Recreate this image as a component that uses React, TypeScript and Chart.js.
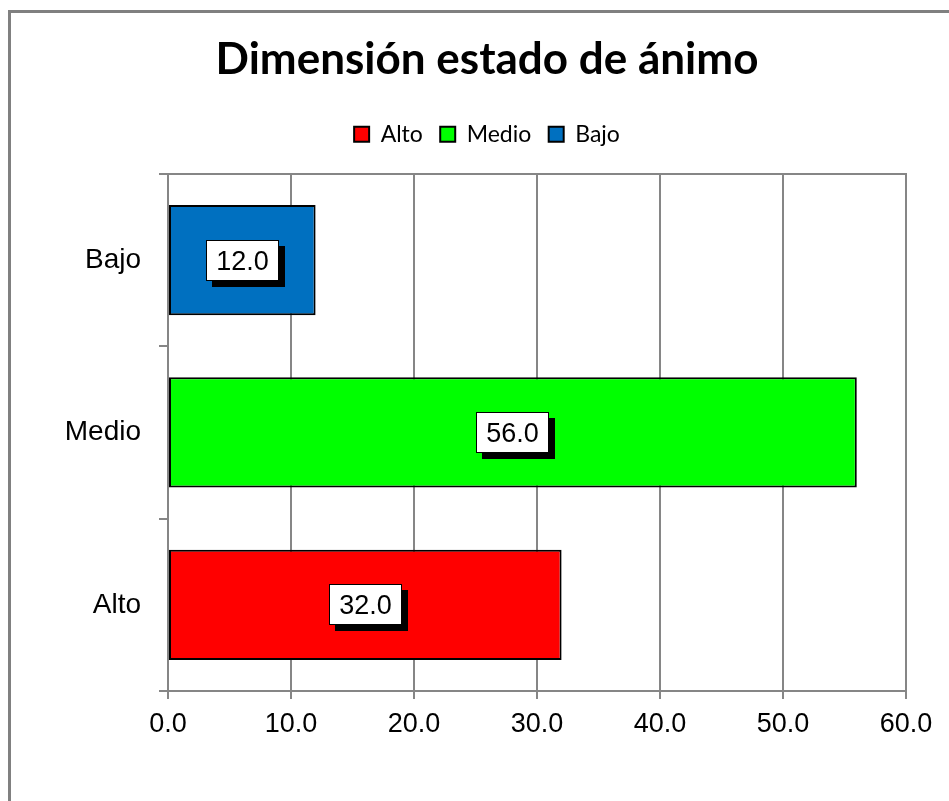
import React, { useEffect, useRef } from 'react';
import { Chart, registerables } from 'chart.js';

Chart.register(...registerables);

const titleText = 'Dimensión estado de ánimo';
const categories = ['Alto', 'Medio', 'Bajo'];
const values = [32.0, 56.0, 12.0];
const barColors = ['#FF0000', '#00FF00', '#0070C0'];
const xMin = 0;
const xMax = 60;
const xStep = 10;

const GRID = '#868686';
const AXIS_FONT = "'Liberation Sans', Arial, sans-serif";
const TITLE_FONT = "Lato, 'Open Sans', sans-serif";

const valueBoxes = {
  id: 'valueBoxes',
  afterDatasetsDraw(chart: any) {
    const ctx = chart.ctx;
    ctx.save();
    ctx.font = `27px ${AXIS_FONT}`;
    chart.data.datasets.forEach((ds: any, di: number) => {
      const meta = chart.getDatasetMeta(di);
      meta.data.forEach((el: any, j: number) => {
        const v = ds.data[j];
        if (v == null) return;
        const { x, y, base } = el.getProps(['x', 'y', 'base'], true);
        const cx = (x + base) / 2;
        const cy = y;
        const text = Number(v).toFixed(1);
        const tw = ctx.measureText(text).width;
        const w = Math.round(tw + 20);
        const h = 41;
        const left = Math.round(cx - w / 2);
        const top = Math.round(cy - h / 2);
        ctx.fillStyle = '#000';
        ctx.fillRect(left + 6, top + 6, w, h);
        ctx.fillStyle = '#fff';
        ctx.fillRect(left, top, w, h);
        ctx.strokeStyle = '#000';
        ctx.lineWidth = 1;
        ctx.strokeRect(left + 0.5, top + 0.5, w - 1, h - 1);
        ctx.fillStyle = '#000';
        ctx.textAlign = 'center';
        ctx.textBaseline = 'middle';
        ctx.fillText(text, left + w / 2, cy + 2);
      });
    });
    ctx.restore();
  },
};

const plotTop = {
  id: 'plotTop',
  beforeDatasetsDraw(chart: any) {
    const { ctx, chartArea } = chart;
    ctx.save();
    ctx.strokeStyle = GRID;
    ctx.lineWidth = 2;
    ctx.beginPath();
    ctx.moveTo(chartArea.left, Math.round(chartArea.top));
    ctx.lineTo(chartArea.right + 1, Math.round(chartArea.top));
    ctx.stroke();
    ctx.restore();
  },
};

export default function App() {
  const ref = useRef<HTMLCanvasElement>(null);
  useEffect(() => {
    const datasets = categories.map((c, i) => ({
      label: c,
      data: categories.map((_, j) => (j === i ? values[i] : null)),
      backgroundColor: barColors[i],
      borderColor: '#000000',
      borderWidth: 2,
      borderSkipped: false,
      barPercentage: 0.64,
      categoryPercentage: 1,
    }));
    const chart = new Chart(ref.current as HTMLCanvasElement, {
      type: 'bar',
      data: { labels: categories, datasets },
      options: {
        indexAxis: 'y',
        responsive: false,
        animation: false,
        layout: { padding: { top: 20.6, left: 17, right: 17, bottom: 50 } },
        scales: {
          x: {
            stacked: true,
            min: xMin,
            max: xMax,
            ticks: {
              stepSize: xStep,
              color: '#000',
              font: { family: AXIS_FONT, size: 27 },
              padding: 9,
              maxRotation: 0,
              callback: (v: any) => Number(v).toFixed(1),
            },
            grid: {
              color: GRID,
              lineWidth: 2,
              tickLength: 8,
              drawOnChartArea: true,
            },
            border: { display: true, color: GRID, width: 2 },
            afterFit: (s: any) => {
              s.height = 60;
            },
          },
          y: {
            stacked: true,
            reverse: true,
            ticks: {
              color: '#000',
              font: { family: AXIS_FONT, size: 28 },
              padding: 18,
            },
            grid: {
              offset: true,
              color: GRID,
              lineWidth: 2,
              tickLength: 9,
              drawOnChartArea: false,
            },
            border: { display: true, color: GRID, width: 2 },
            afterFit: (s: any) => {
              s.width = 140;
            },
          },
          rightSpace: {
            type: 'linear',
            axis: 'y',
            position: 'right',
            display: true,
            grid: { display: false, drawTicks: false },
            border: { display: false },
            ticks: { display: false },
            afterFit: (s: any) => {
              s.width = 40;
            },
          },
        },
        plugins: {
          title: {
            display: true,
            text: titleText,
            color: '#000',
            font: { family: TITLE_FONT, size: 44, weight: 'bold' },
            padding: { top: 0, bottom: 18.9 },
          },
          subtitle: {
            display: true,
            text: '',
            font: { size: 1 },
            padding: { top: 0, bottom: 17 },
            weight: 500,
          } as any,
          legend: {
            display: true,
            position: 'top',
            labels: {
              boxWidth: 15,
              boxHeight: 15,
              padding: 17.4,
              color: '#000',
              font: { family: TITLE_FONT, size: 23 },
            },
          },
          tooltip: { enabled: false },
        },
      },
      plugins: [plotTop, valueBoxes],
    } as any);
    return () => chart.destroy();
  }, []);

  return (
    <div
      style={{
        position: 'absolute',
        left: 8,
        top: 10,
        width: 941,
        height: 791,
        overflow: 'hidden',
        background: '#fff',
      }}
    >
      <div
        style={{
          position: 'absolute',
          left: 0,
          top: 0,
          width: 1000,
          height: 1000,
          border: '3px solid #808080',
          boxSizing: 'border-box',
        }}
      />
      <canvas
        ref={ref}
        width={952}
        height={788}
        style={{ position: 'absolute', left: 3, top: 3, width: 952, height: 788 }}
      />
    </div>
  );
}
